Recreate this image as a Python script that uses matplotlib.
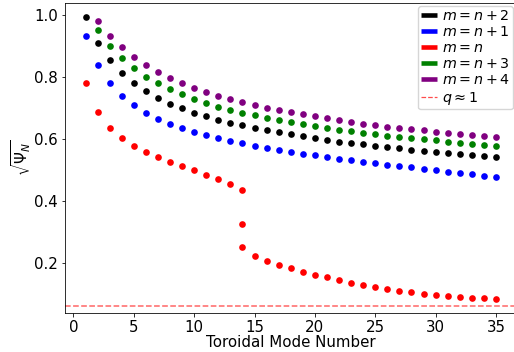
import numpy as np
import matplotlib
matplotlib.use("Agg")
import matplotlib.pyplot as plt
from matplotlib.lines import Line2D

n_all = list(range(1, 36))
n_from2 = list(range(2, 36))

m_n2 = [0.994, 0.910, 0.854, 0.812, 0.780, 0.754, 0.732, 0.714, 0.699, 0.685,
        0.673, 0.662, 0.653, 0.644, 0.637, 0.629, 0.622, 0.615, 0.609, 0.603,
        0.598, 0.592, 0.587, 0.583, 0.578, 0.574, 0.571, 0.565, 0.561, 0.558,
        0.555, 0.552, 0.548, 0.545, 0.542]
m_n1 = [0.933, 0.838, 0.780, 0.739, 0.709, 0.685, 0.666, 0.649, 0.635, 0.624,
        0.613, 0.603, 0.595, 0.586, 0.579, 0.571, 0.565, 0.558, 0.553, 0.547,
        0.542, 0.537, 0.531, 0.527, 0.522, 0.516, 0.513, 0.509, 0.503, 0.499,
        0.495, 0.490, 0.486, 0.482, 0.476]
m_n_x = list(range(1, 15)) + [14, 14] + list(range(15, 36))
m_n = [0.780, 0.686, 0.637, 0.603, 0.579, 0.558, 0.542, 0.527, 0.513, 0.499,
       0.485, 0.471, 0.456, 0.435, 0.325, 0.251,
       0.224, 0.206, 0.194, 0.183, 0.172, 0.162, 0.154, 0.145, 0.137, 0.129,
       0.123, 0.116, 0.110, 0.105, 0.101, 0.097, 0.094, 0.091, 0.088, 0.086, 0.084]
m_n3 = [0.951, 0.901, 0.860, 0.828, 0.801, 0.780, 0.760, 0.744, 0.729, 0.716,
        0.705, 0.695, 0.685, 0.676, 0.669, 0.661, 0.655, 0.648, 0.642, 0.635,
        0.630, 0.625, 0.620, 0.615, 0.611, 0.606, 0.603, 0.599, 0.596, 0.592,
        0.588, 0.585, 0.582, 0.578]
m_n4 = [0.982, 0.933, 0.896, 0.865, 0.838, 0.816, 0.797, 0.780, 0.765, 0.752,
        0.739, 0.728, 0.718, 0.710, 0.701, 0.694, 0.686, 0.680, 0.673, 0.667,
        0.661, 0.655, 0.649, 0.644, 0.640, 0.635, 0.631, 0.628, 0.624, 0.620,
        0.617, 0.614, 0.611, 0.606]
q1_level = 0.062

labels = ["$m = n + 2$", "$m = n + 1$", "$m = n$", "$m = n + 3$", "$m = n + 4$"]
colors = ["black", "blue", "red", "green", "purple"]

s = 0.72
plt.rcParams.update({
    'axes.linewidth': 0.8 * s,
    'xtick.major.size': 3.5 * s, 'ytick.major.size': 3.5 * s,
    'xtick.major.width': 0.8 * s, 'ytick.major.width': 0.8 * s,
    'xtick.major.pad': 3.5 * s, 'ytick.major.pad': 3.5 * s,
})
fs = 10.8

fig = plt.figure(figsize=(5.14, 3.52), dpi=100)
ax = fig.add_axes([65/514, 39/352, (516.5-65)/514, (313-3)/352])

series = [(n_all, m_n2), (n_all, m_n1), (m_n_x, m_n), (n_from2, m_n3), (n_from2, m_n4)]
for (xs, ys), c in zip(series, colors):
    ax.plot(xs, ys, 'o', color=c, markersize=4.8, markeredgewidth=0, linestyle='none')
ax.axhline(q1_level, color='red', linestyle='--', linewidth=1.1, alpha=0.6)

ax.set_xlim(-0.7, 36.7)
ax.set_ylim(0.0387, 1.039)
ax.set_xticks([0, 5, 10, 15, 20, 25, 30, 35])
ax.set_yticks([0.2, 0.4, 0.6, 0.8, 1.0])
ax.tick_params(labelsize=fs)
ax.set_xlabel("Toroidal Mode Number", fontsize=fs, labelpad=0)
ax.set_ylabel(r"$\sqrt{\Psi_N}$", fontsize=fs, labelpad=1)

handles = [Line2D([], [], color=c, lw=3.3, solid_capstyle='butt') for c in colors]
handles.append(Line2D([], [], color='red', lw=0.9, ls='--', alpha=0.7))
ax.legend(handles, labels + [r"$q \approx 1$"], loc='upper right',
          bbox_to_anchor=(513/514, 346/352), bbox_transform=fig.transFigure,
          borderaxespad=0, fontsize=10.3, handlelength=1.1, handletextpad=0.35,
          labelspacing=0.15, borderpad=0.2, framealpha=0.8)

fig.savefig("out.png", dpi=100)
